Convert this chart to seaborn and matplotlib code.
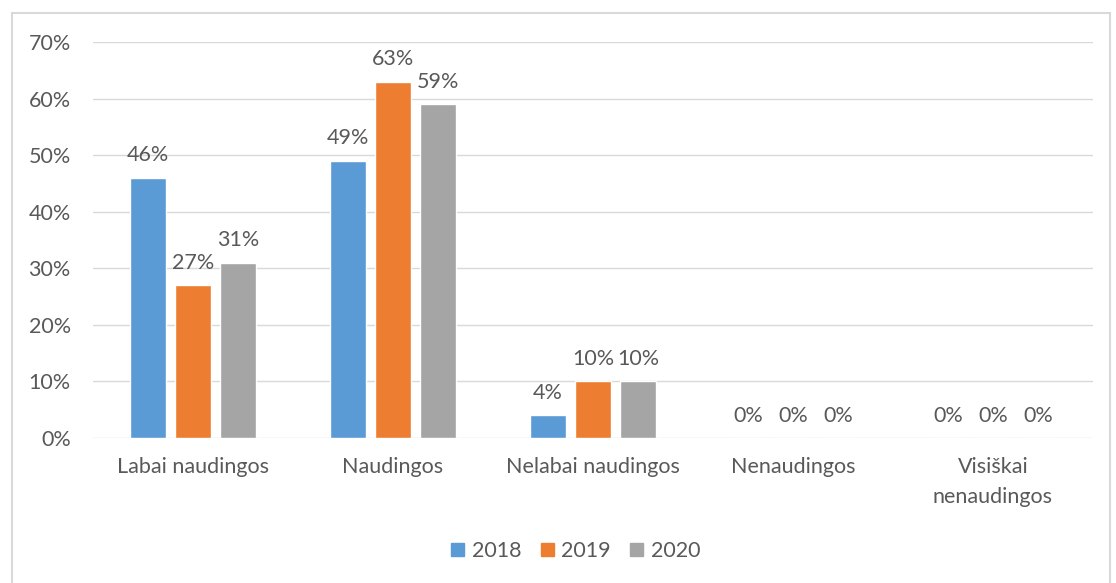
import pandas as pd
import seaborn as sns
from matplotlib import pyplot as plt
from matplotlib.patches import Rectangle

categories = ["Labai naudingos", "Naudingos", "Nelabai naudingos", "Nenaudingos", "Visiškai\nnenaudingos"]
years = ["2018", "2019", "2020"]
v2018 = [46, 49, 4, 0, 0]
v2019 = [27, 63, 10, 0, 0]
v2020 = [31, 59, 10, 0, 0]
colors = ["#5B9BD5", "#ED7D31", "#A5A5A5"]
y_ticks = [0, 10, 20, 30, 40, 50, 60, 70]

rows = []
for year, vals in zip(years, [v2018, v2019, v2020]):
    for cat, v in zip(categories, vals):
        rows.append({"Kategorija": cat, "Metai": year, "Reikšmė": v})
data = pd.DataFrame(rows)

sns.set_style("white")
plt.rcParams['font.family'] = ['Lato', 'DejaVu Sans']
text_col = "#595959"
fs = 15.5

fig = plt.figure(figsize=(11.16, 5.83), dpi=100)
ax = fig.add_axes([0.0833, 0.2487, 0.896, 0.6793])

sns.barplot(data=data, x="Kategorija", y="Reikšmė", hue="Metai", palette=colors,
            width=0.675, gap=0.2, ax=ax, legend=False, saturation=1, errorbar=None)

for cont in ax.containers:
    ax.bar_label(cont, fmt="%.0f%%", padding=9, fontsize=fs, color=text_col)

ax.set_ylim(0, 70)
ax.set_xlim(-0.5, 4.5)
ax.set_yticks(y_ticks)
ax.set_yticklabels([f"{t}%" for t in y_ticks])
ax.yaxis.grid(True, color="#D9D9D9", linewidth=1)
ax.set_axisbelow(True)
for s in ["top", "right", "left", "bottom"]:
    ax.spines[s].set_visible(False)
ax.tick_params(axis="both", length=0, labelsize=fs, labelcolor=text_col)
ax.tick_params(axis="y", pad=16)
ax.tick_params(axis="x", pad=14)
for lbl in ax.get_xticklabels():
    lbl.set_linespacing(1.6)
ax.set_xlabel("")
ax.set_ylabel("")

handles = [Rectangle((0, 0), 1, 1, color=c) for c in colors]
fig.legend(handles, years, loc="center", bbox_to_anchor=(0.516, 0.055), ncol=3,
           frameon=False, fontsize=fs, labelcolor=text_col, handlelength=0.6,
           handleheight=0.6, handletextpad=0.35, columnspacing=0.9)

fig.patches.append(Rectangle((12 / 1116, -0.01), 1098 / 1116, 1 - 13 / 583 + 0.01,
                             transform=fig.transFigure, fill=False,
                             edgecolor="#D9D9D9", linewidth=1.5))

fig.savefig("out.png", dpi=100)
